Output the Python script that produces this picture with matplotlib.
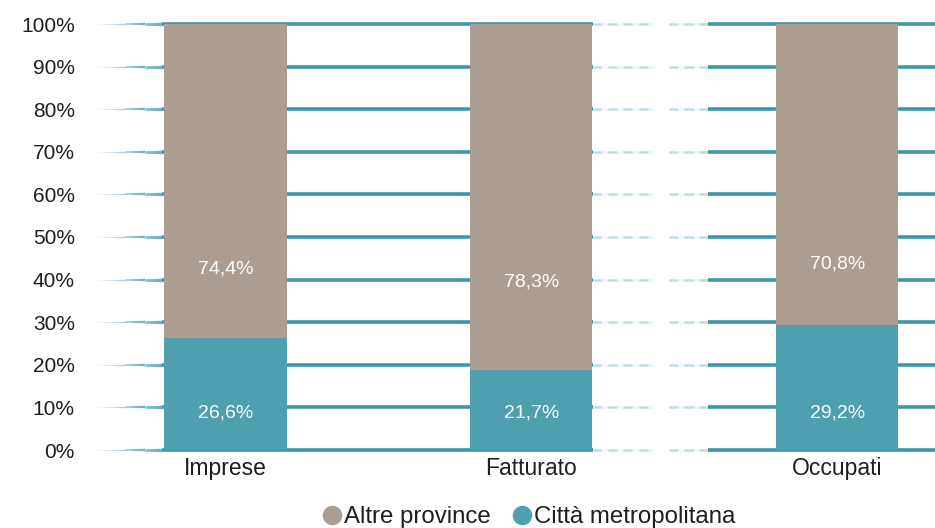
import numpy as np
import matplotlib
matplotlib.use("Agg")
import matplotlib.pyplot as plt
from matplotlib.collections import LineCollection
from matplotlib.lines import Line2D
from matplotlib.colors import to_rgba

# ---------------- data ----------------
categories = ["Imprese", "Fatturato", "Occupati"]
# printed labels
label_citta = [26.6, 21.7, 29.2]
label_altre = [74.4, 78.3, 70.8]
# bar heights as drawn in the picture (100% stacked)
bar_citta = [26.4, 18.8, 29.3]
bar_altre = [73.6, 81.2, 70.7]
y_ticks = [0, 10, 20, 30, 40, 50, 60, 70, 80, 90, 100]
legend_labels = ["Altre province", "Città metropolitana"]

# ---------------- style ----------------
BROWN = "#ac9d93"
TEAL = "#4ea0b1"
GRID = "#3d96a9"
TEXT = "#1e1e1e"
plt.rcParams["font.family"] = ["Liberation Sans", "DejaVu Sans"]

fig = plt.figure(figsize=(9.35, 5.28), dpi=100)
ax = fig.add_axes([97 / 935, 78 / 528, 838 / 935, 426 / 528])

x = np.arange(len(categories))
cm_h = np.array(bar_citta, dtype=float)
ap_h = np.array(bar_altre, dtype=float)

XMIN, XMAX = -0.42, 2.32
ax.set_xlim(XMIN, XMAX)
ax.set_ylim(0, 100)

# brush-like gridlines
def brush_line(ax, yv):
    xs = np.linspace(XMIN, XMAX, 900)
    mids = (xs[:-1] + xs[1:]) / 2
    widths = np.full(mids.shape, 2.6)
    alphas = np.full(mids.shape, 1.0)
    # left taper
    left = mids < -0.2
    t = (mids[left] - XMIN) / (-0.2 - XMIN)
    widths[left] = 0.3 + 2.3 * t ** 1.3
    alphas[left] = 0.15 + 0.85 * t
    # faded dashed region between Fatturato and Occupati
    fade = (mids > 1.2) & (mids < 1.58)
    phase = ((mids[fade] - 1.2) / 0.05) % 1.0
    alphas[fade] = np.where(phase < 0.6, 0.35, 0.08)
    widths[fade] = 1.8
    gap = (mids > 1.40) & (mids < 1.45)
    alphas[gap] = 0.0
    segs = [[(xs[i], yv), (xs[i + 1], yv)] for i in range(len(mids))]
    base = to_rgba(GRID)
    cols = [(base[0], base[1], base[2], a) for a in alphas]
    lc = LineCollection(segs, linewidths=widths, colors=cols, zorder=1,
                        capstyle="butt", clip_on=False, antialiased=True)
    ax.add_collection(lc)

for yv in y_ticks:
    brush_line(ax, yv)

width = 0.40
ax.bar(x, cm_h, width=width, color=TEAL, zorder=3)
ax.bar(x, ap_h, width=width, bottom=cm_h, color=BROWN, zorder=3)

def fmt(v):
    return f"{v:.1f}".replace(".", ",") + "%"

for i in range(len(categories)):
    ax.text(x[i], 8.8, fmt(label_citta[i]), color="white",
            ha="center", va="center", fontsize=14, zorder=4)
    ax.text(x[i], 32 + 0.4 * cm_h[i], fmt(label_altre[i]),
            color="white", ha="center", va="center", fontsize=14, zorder=4)

ax.set_xticks(x)
ax.set_xticklabels(categories, fontsize=16.5, color=TEXT)
ax.set_yticks(y_ticks)
ax.set_yticklabels([f"{v}%" for v in y_ticks], fontsize=15, color=TEXT)
ax.tick_params(axis="y", length=0, pad=16)
ax.tick_params(axis="x", length=0, pad=5)
for s in ax.spines.values():
    s.set_visible(False)

handles = [
    Line2D([], [], marker="o", linestyle="none", markersize=13,
           markerfacecolor=BROWN, markeredgecolor=BROWN),
    Line2D([], [], marker="o", linestyle="none", markersize=13,
           markerfacecolor=TEAL, markeredgecolor=TEAL),
]
fig.legend(handles, legend_labels, loc="center", bbox_to_anchor=(0.566, 0.02),
           ncol=2, frameon=False, fontsize=17.3, handlelength=0.8,
           handletextpad=0.1, columnspacing=0.9, labelcolor=TEXT)

fig.savefig("out.png", dpi=100)
